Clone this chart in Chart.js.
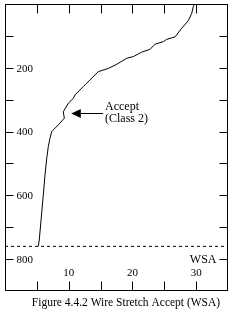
<!DOCTYPE html>
<html>
<head>
<meta charset="utf-8">
<script src="https://cdn.jsdelivr.net/npm/chart.js@4/dist/chart.umd.min.js"></script>
<style>
  html, body { margin: 0; padding: 0; background: #fff; }
  #wrap { width: 241px; height: 316px; position: relative; }
</style>
</head>
<body>
<div id="wrap"><canvas id="c" width="241" height="316"></canvas></div>
<script>
// curve: WSA (x) against depth (y, downwards)
const wsaValues = [5.23, 5.38, 5.76, 6.01, 6.28, 6.55, 6.80, 7.06, 7.33, 8.37, 9.31, 9.15, 9.94,
  10.72, 10.99, 12.29, 13.34, 14.65, 16.22, 17.54, 19.11, 20.14, 21.46, 22.76, 23.55, 24.85,
  25.38, 26.69, 27.74, 28.78, 29.31, 29.56, 29.72];
const depthValues = [760, 740, 655, 599, 536, 484, 447, 421, 400, 379, 358, 338, 311,
  296, 285, 259, 238, 212, 202, 189, 170, 165, 151, 142, 126, 118,
  111, 103, 76, 52, 29, 8, 0];
const cutoffDepth = 760;

const xTicks = [5, 10, 15, 20, 25, 30];
const xLabels = [10, 20, 30];
const yTicks = [100, 200, 300, 400, 500, 600, 700, 800];
const yLabels = [200, 400, 600, 800];

const xRange = [0, 35];
const yRange = [0, 900];

const caption = "Figure 4.4.2 Wire Stretch Accept (WSA)";
const note = ["Accept", "(Class 2)"];

const FONT = "11px 'Liberation Serif', serif";
const NOTE_FONT = "12px 'Liberation Serif', serif";
const CAPTION_FONT = "11.5px 'Liberation Serif', serif";

// frame, inward ticks, labels, arrow and caption
const framePlugin = {
  id: "frame",
  afterDraw(chart) {
    const { ctx, chartArea: a, scales } = chart;
    const xs = scales.x, ys = scales.y;
    const L = Math.round(a.left) + 0.5, R = Math.round(a.right) - 0.5;
    const T = Math.round(a.top) + 0.5, B = Math.round(a.bottom) - 0.5;
    ctx.save();
    ctx.strokeStyle = "#000";
    ctx.lineWidth = 1;
    ctx.strokeRect(L, T, R - L, B - T);

    ctx.beginPath();
    yTicks.forEach(v => {
      const py = Math.round(ys.getPixelForValue(v)) + 0.5;
      ctx.moveTo(L, py); ctx.lineTo(L + 8, py);
      ctx.moveTo(R, py); ctx.lineTo(R - 8, py);
    });
    xTicks.forEach(v => {
      const px = Math.round(xs.getPixelForValue(v)) + 0.5;
      ctx.moveTo(px, B); ctx.lineTo(px, B - 9);
      ctx.moveTo(px, T); ctx.lineTo(px, T + 9);
    });
    ctx.stroke();

    ctx.fillStyle = "#000";
    ctx.font = FONT;
    ctx.textBaseline = "middle";
    ctx.textAlign = "left";
    yLabels.forEach(v => ctx.fillText(String(v), L + 11, ys.getPixelForValue(v) + 1));
    ctx.textAlign = "center";
    xLabels.forEach(v => ctx.fillText(String(v), xs.getPixelForValue(v), B - 17));
    ctx.font = NOTE_FONT;
    ctx.textAlign = "right";
    ctx.fillText("WSA", R - 11, ys.getPixelForValue(800) + 1);

    // arrow pointing at the curve
    const ay = Math.round(ys.getPixelForValue(341)) + 0.5;
    const tip = xs.getPixelForValue(10.4);
    const base = xs.getPixelForValue(11.9);
    const tail = xs.getPixelForValue(15.4);
    ctx.beginPath();
    ctx.moveTo(base, ay); ctx.lineTo(tail, ay);
    ctx.stroke();
    ctx.beginPath();
    ctx.moveTo(tip, ay); ctx.lineTo(base, ay - 4.5); ctx.lineTo(base, ay + 4.5);
    ctx.closePath(); ctx.fill();
    ctx.textAlign = "left";
    ctx.fillText(note[0], xs.getPixelForValue(15.7), ys.getPixelForValue(323));
    ctx.fillText(note[1], xs.getPixelForValue(15.7), ys.getPixelForValue(359));

    ctx.font = CAPTION_FONT;
    ctx.textAlign = "center";
    ctx.fillText(caption, 126, 303);
    ctx.restore();
  }
};

new Chart(document.getElementById("c"), {
  type: "scatter",
  data: {
    datasets: [
      {
        data: wsaValues.map((v, i) => ({ x: v, y: depthValues[i] })),
        showLine: true,
        borderColor: "#000",
        borderWidth: 1,
        pointRadius: 0,
        tension: 0
      },
      {
        data: [{ x: xRange[0], y: cutoffDepth }, { x: xRange[1], y: cutoffDepth }],
        showLine: true,
        borderColor: "#000",
        borderWidth: 1,
        borderDash: [3, 3],
        pointRadius: 0
      }
    ]
  },
  options: {
    responsive: false,
    animation: false,
    events: [],
    layout: { padding: { left: 5, right: 13, top: 4, bottom: 25 } },
    plugins: { legend: { display: false }, tooltip: { enabled: false } },
    scales: {
      x: { type: "linear", min: xRange[0], max: xRange[1], display: false },
      y: { type: "linear", min: yRange[0], max: yRange[1], reverse: true, display: false }
    }
  },
  plugins: [framePlugin]
});
</script>
</body>
</html>
